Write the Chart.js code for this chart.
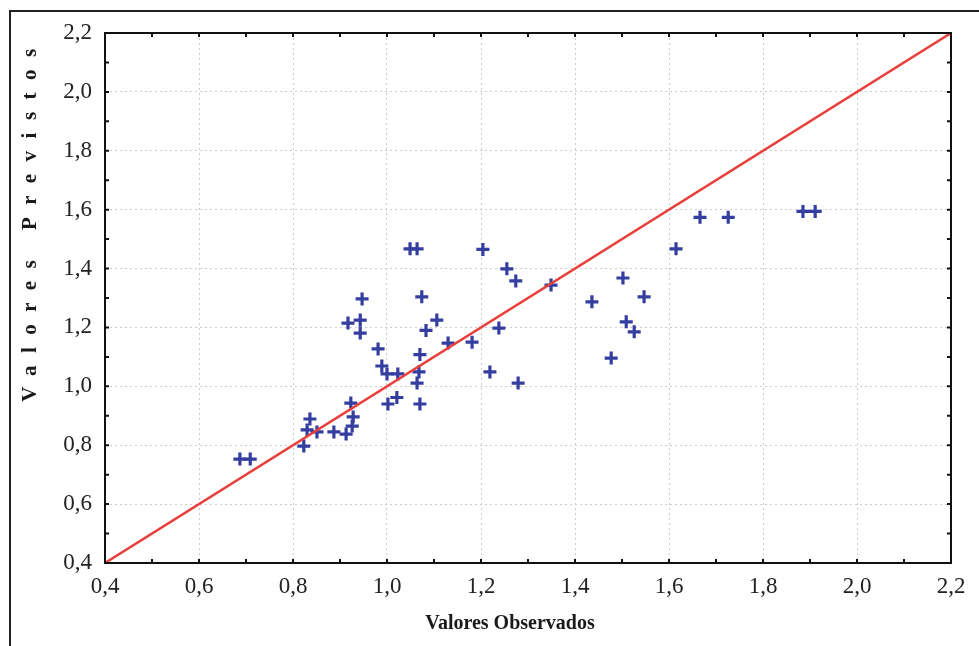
<!DOCTYPE html>
<html>
<head>
<meta charset="utf-8">
<title>Valores Observados x Valores Previstos</title>
<script src="https://cdn.jsdelivr.net/npm/chart.js@4/dist/chart.umd.min.js"></script>
<style>
    html, body { margin: 0; padding: 0; background: #fff; overflow: hidden; }
    #wrap { width: 979px; height: 646px; position: relative; }
</style>
</head>
<body>
<div id="wrap"><canvas id="chartObsPrev" width="979" height="646"></canvas></div>
<script>
/* observed values (x) and predicted values (y) */
var valoresObservados = [
    0.687, 0.709, 0.823, 0.836, 0.830, 0.851, 0.887, 0.913, 0.926, 0.928, 0.923,
    0.917, 0.943, 0.943, 0.947, 0.981, 0.989, 1.000, 1.023, 1.002, 1.021,
    1.049, 1.064, 1.074, 1.083, 1.106, 1.130, 1.181, 1.070, 1.068, 1.064, 1.070,
    1.204, 1.255, 1.274, 1.349, 1.238, 1.219, 1.279,
    1.436, 1.502, 1.547, 1.509, 1.526, 1.477,
    1.615, 1.666, 1.726, 1.885, 1.911
];
var valoresPrevistos = [
    0.753, 0.753, 0.797, 0.889, 0.852, 0.845, 0.845, 0.838, 0.865, 0.896, 0.943,
    1.215, 1.225, 1.181, 1.297, 1.127, 1.069, 1.042, 1.042, 0.940, 0.962,
    1.467, 1.467, 1.304, 1.190, 1.225, 1.147, 1.150, 1.108, 1.049, 1.011, 0.940,
    1.465, 1.399, 1.358, 1.344, 1.198, 1.049, 1.011,
    1.287, 1.368, 1.304, 1.219, 1.185, 1.096,
    1.467, 1.574, 1.574, 1.594, 1.594
];
/* axis range, major tick step and the 1:1 reference line */
var eixoMin = 0.4;
var eixoMax = 2.2;
var passoTick = 0.2;
var linhaIdeal = [0.4, 2.2];

var serifFont = '"Liberation Serif", "DejaVu Serif", serif';

function formatTick(value) {
    return Number(value).toFixed(1).replace('.', ',');
}

/* frame, inner ticks and axis titles */
var moldura = {
    id: 'moldura',
    afterDraw: function (chart) {
        var ctx = chart.ctx;
        var a = chart.chartArea;
        var xs = chart.scales.x;
        var ys = chart.scales.y;
        ctx.save();

        // outer box
        ctx.strokeStyle = '#222';
        ctx.lineWidth = 2;
        ctx.beginPath();
        ctx.moveTo(10, 700);
        ctx.lineTo(10, 11);
        ctx.lineTo(1000, 11);
        ctx.stroke();

        // plot frame
        ctx.strokeStyle = '#111';
        ctx.lineWidth = 2;
        ctx.strokeRect(a.left, a.top, a.right - a.left, a.bottom - a.top);

        // small inward ticks every 0.1 on the four sides
        ctx.lineWidth = 2;
        ctx.beginPath();
        for (var i = 1; i < 18; i++) {
            var v = eixoMin + i * 0.1;
            var px = xs.getPixelForValue(v);
            var py = ys.getPixelForValue(v);
            ctx.moveTo(px, a.bottom); ctx.lineTo(px, a.bottom - 4);
            ctx.moveTo(px, a.top); ctx.lineTo(px, a.top + 4);
            ctx.moveTo(a.left, py); ctx.lineTo(a.left + 4, py);
            ctx.moveTo(a.right, py); ctx.lineTo(a.right - 4, py);
        }
        ctx.stroke();

        // x title
        ctx.fillStyle = '#1a1a1a';
        ctx.font = 'bold 20px ' + serifFont;
        ctx.textAlign = 'center';
        ctx.textBaseline = 'middle';
        ctx.fillText('Valores Observados', 510, 624);

        // y title, spaced letters
        ctx.font = 'bold 21px ' + serifFont;
        ctx.translate(31, 225);
        ctx.rotate(-Math.PI / 2);
        ctx.letterSpacing = '12.5px';
        ctx.fillText('Valores Previstos', 6, 0);
        ctx.restore();
    }
};

var pontos = valoresObservados.map(function (x, i) {
    return { x: x, y: valoresPrevistos[i] };
});

var chartDiv = document.getElementById('chartObsPrev');
var myChart = new Chart(chartDiv, {
    type: 'scatter',
    data: {
        datasets: [
            {
                type: 'line',
                data: linhaIdeal.map(function (v) { return { x: v, y: v }; }),
                borderColor: '#e8403c',
                borderWidth: 2.5,
                pointRadius: 0,
                fill: false,
                order: 0
            },
            {
                data: pontos,
                pointStyle: 'cross',
                pointRadius: 6.5,
                pointBorderWidth: 3.2,
                pointBorderColor: '#343da0',
                pointBackgroundColor: '#343da0',
                order: 1
            }
        ]
    },
    options: {
        responsive: false,
        animation: false,
        events: [],
        layout: { padding: { left: 0, top: 33, right: 28, bottom: 0 } },
        plugins: {
            legend: { display: false },
            tooltip: { enabled: false },
            title: { display: false }
        },
        scales: {
            x: {
                type: 'linear',
                min: eixoMin,
                max: eixoMax,
                afterFit: function (scale) { scale.height = 83; },
                ticks: {
                    stepSize: passoTick,
                    padding: 10,
                    color: '#222',
                    font: { family: serifFont, size: 23 },
                    maxRotation: 0,
                    callback: formatTick
                },
                grid: { color: '#cccccc', lineWidth: 1, drawTicks: false },
                border: { display: false, dash: [2, 3] }
            },
            y: {
                type: 'linear',
                min: eixoMin,
                max: eixoMax,
                afterFit: function (scale) { scale.width = 105; },
                ticks: {
                    stepSize: passoTick,
                    padding: 13,
                    color: '#222',
                    font: { family: serifFont, size: 23 },
                    callback: formatTick
                },
                grid: { color: '#cccccc', lineWidth: 1, drawTicks: false },
                border: { display: false, dash: [2, 3] }
            }
        }
    },
    plugins: [moldura]
});
</script>
</body>
</html>
